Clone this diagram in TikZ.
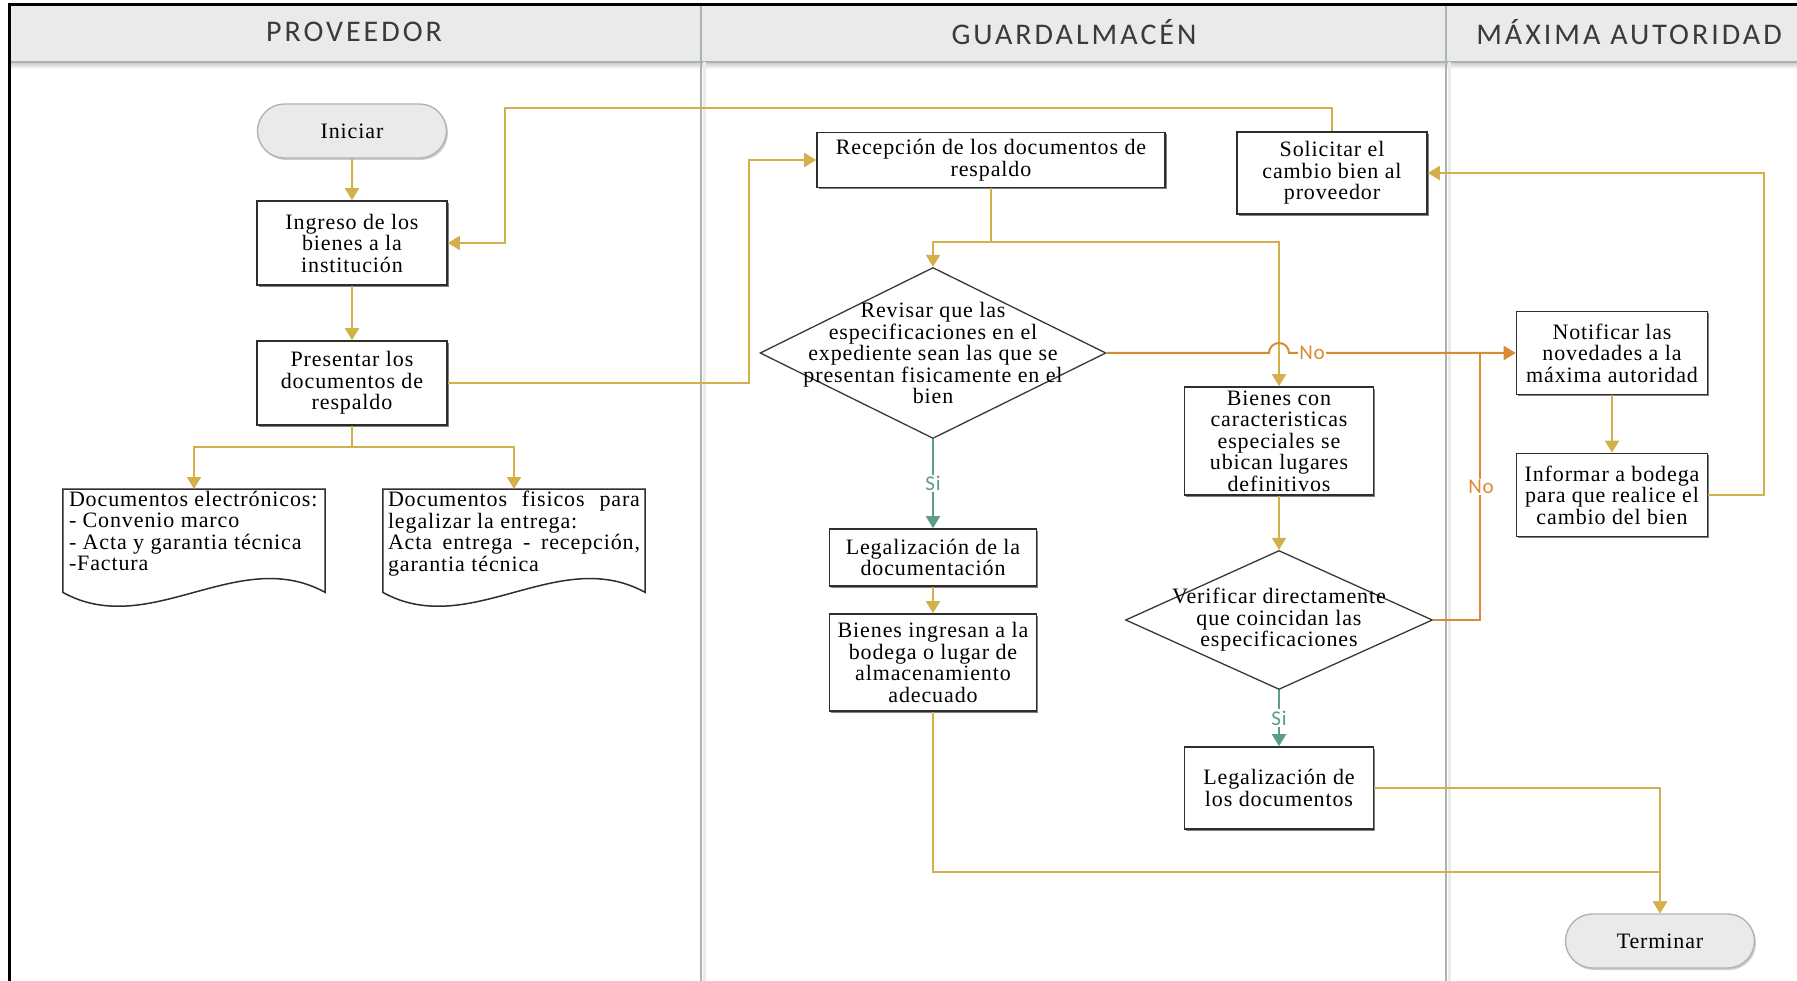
\documentclass[tikz,border=0pt]{standalone}
\usepackage{fontspec}
\setmainfont[LetterSpace=4]{Liberation Serif}
\newfontfamily\lanefont[LetterSpace=10]{Carlito}
\newfontfamily\tagfont[LetterSpace=4]{Carlito}
\usetikzlibrary{arrows.meta,shapes.geometric,shapes.misc,shadows,calc}

\definecolor{gold}{HTML}{D4B04A}
\definecolor{orng}{HTML}{D98B33}
\definecolor{grn}{HTML}{5A9E86}
\definecolor{lane}{HTML}{A8B4AF}
\definecolor{hdrfill}{HTML}{EAEAEA}
\definecolor{termline}{HTML}{A9B9B2}
\definecolor{lanetext}{HTML}{3A3A3A}

\begin{document}
\begin{tikzpicture}[x=1pt,y=-1pt,
  every node/.style={font=\fontsize{22}{21.5}\selectfont, inner sep=2pt},
  flow/.style={line width=2pt, draw=gold},
  noflow/.style={line width=2pt, draw=orng},
  yesflow/.style={line width=2pt, draw=grn},
  tipgold/.style={-{Triangle[length=12pt,width=14pt]}},
  procbox/.style={draw=black!82, line width=1.6pt, fill=white, align=center,
    drop shadow={shadow xshift=1.6pt,shadow yshift=-1.6pt,fill=black!50,opacity=1}},
  termbox/.style={rounded rectangle, draw=termline, line width=1.4pt, fill=hdrfill,
    minimum width=189, minimum height=54, inner sep=0,
    drop shadow={shadow xshift=1.5pt,shadow yshift=-2pt,fill=black!20,opacity=1}},
  decision/.style={diamond, draw=black!78, line width=1.3pt, fill=white, inner sep=0},
  docarea/.style={anchor=north, inner sep=0, minimum width=262, minimum height=103},
  docline/.style={draw=black!82, line width=1.5pt, fill=white},
  lanelabel/.style={font=\lanefont\fontsize{30}{31}\selectfont, text=lanetext},
  tag/.style={font=\tagfont\fontsize{21}{21}\selectfont, fill=white, inner sep=1.5pt}
]
\useasboundingbox (0,0) rectangle (1797,981);

% swimlane frame and header band
\fill[hdrfill] (9,6) rectangle (1797,62);
\shade[top color=black!22, bottom color=white] (9,62) rectangle (1797,69);
\draw[lane, line width=1.6pt] (9,62) -- (1797,62);
\draw[black!8, line width=3pt] (704,62) -- (704,981);
\draw[black!8, line width=3pt] (1449,62) -- (1449,981);
\draw[lane, line width=2pt] (701,6) -- (701,981);
\draw[lane, line width=2pt] (1446,6) -- (1446,981);
\draw[black, line width=3pt] (9,981) -- (9,5) -- (1797,5);

\node[lanelabel] (laneA) at (354,32) {PROVEEDOR};
\node[lanelabel] (laneB) at (1074,32) {GUARDALMACÉN};
\node[lanelabel] (laneC) at (1629,32) {MÁXIMA AUTORIDAD};

% PROVEEDOR lane
\node[termbox] (start) at (352,131) {Iniciar};
\node[procbox, minimum width=190, minimum height=84] (ing) at (352,243)
  {Ingreso de los\\bienes a la\\institución};
\node[procbox, minimum width=190, minimum height=84] (pres) at (352,383)
  {Presentar los\\documentos de\\respaldo};

\node[docarea] (doc1) at (194,489) {};
\node[docarea] (doc2) at (514,489) {};
\foreach \d in {doc1,doc2}{
  \draw[docline] (\d.south west) -- (\d.north west) -- (\d.north east) -- (\d.south east)
    .. controls ($(\d.south east)+(-87,-48)$) and ($(\d.south west)+(87,48)$) .. (\d.south west) -- cycle;
}
\node[anchor=north west, align=left, inner sep=0] (doc1txt) at ($(doc1.north west)+(6,2)$)
  {Documentos electrónicos:\\- Convenio marco\\- Acta y garantia técnica\\-Factura};
\node[anchor=north west, align=left, inner sep=0] (doc2txt) at ($(doc2.north west)+(5,2)$)
  {\makebox[252pt][l]{Documentos\hfill fisicos\hfill para}\\legalizar la entrega:\\
   \makebox[252pt][l]{Acta\hfill entrega\hfill -\hfill recepción,}\\garantia técnica};

% GUARDALMACEN lane
\node[procbox, minimum width=348, minimum height=55] (rec) at (991,160)
  {Recepción de los documentos de\\respaldo};
\node[procbox, minimum width=190, minimum height=82] (sol) at (1332,173)
  {Solicitar el\\cambio bien al\\proveedor};
\node[decision, minimum width=346, minimum height=171] (d1) at (933,353) {};
\node[align=center] (d1txt) at (d1.center)
  {Revisar que las\\especificaciones en el\\expediente sean las que se\\presentan fisicamente en el\\bien};
\node[procbox, minimum width=189, minimum height=108] (bcar) at (1279,441)
  {Bienes con\\caracteristicas\\especiales se\\ubican lugares\\definitivos};
\node[procbox, minimum width=207, minimum height=57] (leg1) at (933,557.5)
  {Legalización de la\\documentación};
\node[procbox, minimum width=207, minimum height=97] (bi) at (933,662.5)
  {Bienes ingresan a la\\bodega o lugar de\\almacenamiento\\adecuado};
\node[decision, minimum width=307, minimum height=139] (d2) at (1279,620) {};
\node[align=center] (d2txt) at (d2.center)
  {Verificar directamente\\que coincidan las\\especificaciones};
\node[procbox, minimum width=189, minimum height=82] (ld) at (1279,788)
  {Legalización de\\los documentos};

% MAXIMA AUTORIDAD lane
\node[procbox, minimum width=191, minimum height=83] (notif) at (1612,353)
  {Notificar las\\novedades a la\\máxima autoridad};
\node[procbox, minimum width=191, minimum height=83] (inf) at (1612,495)
  {Informar a bodega\\para que realice el\\cambio del bien};
\node[termbox] (term) at (1660,941) {Terminar};

% connectors
\draw[flow,tipgold] (start) -- (ing);
\draw[flow,tipgold] (ing) -- (pres);
\draw[flow] (pres.south) -- ++(0,21) coordinate (psplit);
\draw[flow,tipgold] (psplit) -| (doc1.north);
\draw[flow,tipgold] (psplit) -| (doc2.north);
\draw[flow,tipgold] (pres.east) -- ++(301,0) coordinate (pturn) |- (rec.west);
\draw[flow] (rec.south) -- ++(0,54) coordinate (rsplit);
\draw[flow,tipgold] (rsplit) -| (d1.north);
\draw[flow,tipgold] (rsplit) -| (bcar.north);
\draw[noflow,tipgold] (d1.east) -- ($(bcar.north |- d1.east)+(-10,0)$)
  arc[start angle=180,end angle=0,radius=10pt] -- (notif.west);
\draw[yesflow,tipgold] (d1.south) -- (leg1.north);
\draw[flow,tipgold] (leg1) -- (bi);
\draw[flow,tipgold] (bi.south) -- ++(0,160) -| (term.north);
\draw[flow,tipgold] (ld.east) -| (term.north);
\draw[flow,tipgold] (bcar) -- (d2);
\draw[noflow] (d2.east) -| ($(notif.west)+(-36,0)$);
\draw[yesflow,tipgold] (d2) -- (ld);
\draw[flow,tipgold] (notif) -- (inf);
\draw[flow,tipgold] (inf.east) -- ++(56,0) |- (sol.east);
\draw[flow,tipgold] (sol.north) -- ++(0,-23) -| ($(ing.east)+(57,0)$) -- (ing.east);

% connector labels
\node[tag, text=orng] (noA) at (1312,353) {No};
\node[tag, text=orng] (noB) at (1481,487) {No};
\node[tag, text=grn] (siA) at ($(d1.south)!0.5!(leg1.north)$) {Si};
\node[tag, text=grn] (siB) at ($(d2.south)!0.5!(ld.north)$) {Si};
\end{tikzpicture}
\end{document}
